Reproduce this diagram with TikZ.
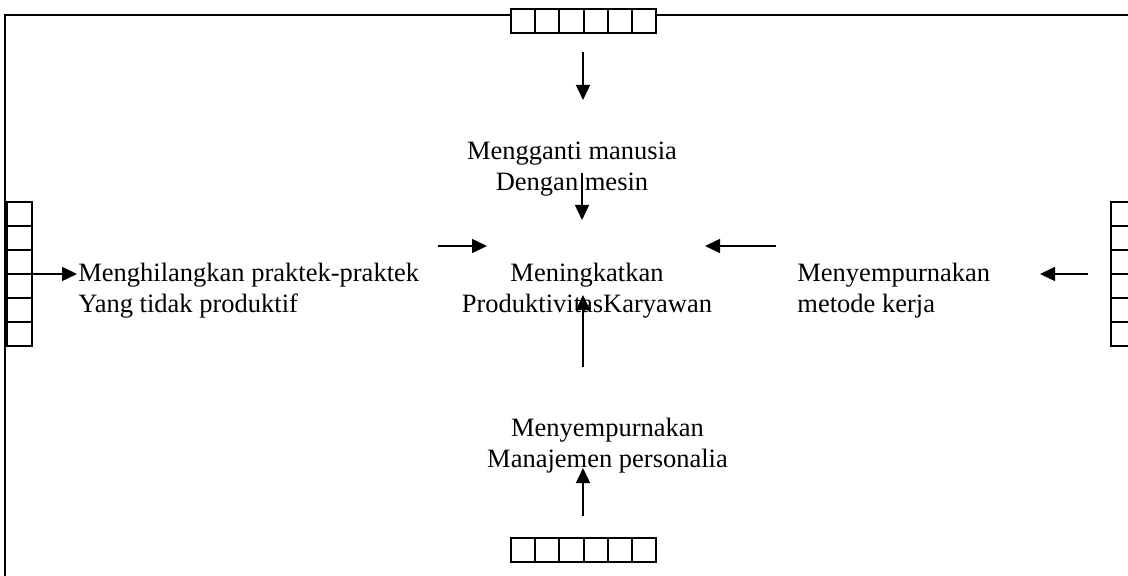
\documentclass[tikz,border=0pt]{standalone}
\usepackage{fontspec}
\setmainfont{Liberation Serif}
\usetikzlibrary{arrows.meta}
\begin{document}
\begin{tikzpicture}[x=0.5pt,y=-0.5pt,
  cell/.style={draw,fill=white,line width=1pt,minimum width=12.08pt,minimum height=12pt,inner sep=0pt,outer sep=0pt},
  frameline/.style={line width=0.75pt},
  arr/.style={line width=0.75pt,-{Triangle[length=7.5pt,width=7pt]}},
  lbl/.style={font=\fontsize{13.25pt}{15.5pt}\selectfont,inner sep=0pt,align=center,anchor=base},
  lblleft/.style={lbl,align=left,anchor=base west}]
\useasboundingbox (0,0) rectangle (1128,576);

% outer frame (top and left edges)
\coordinate (fTL) at (5,15);
\coordinate (fTR) at (1128,15);
\coordinate (fBL) at (5,576);
\draw[frameline] (fTR) -- (fTL) -- (fBL);

% strips of six cells
\foreach \i in {1,...,6} {
  \node[cell] (T\i) at ({511+12.08+24.17*(\i-1)},21.5) {};
  \node[cell] (B\i) at ({511+12.08+24.17*(\i-1)},550) {};
  \node[cell,minimum width=12.5pt] (L\i) at (19.5,{202+12+24*(\i-1)}) {};
  \node[cell,minimum width=12.5pt] (R\i) at (1123.5,{202+12+24*(\i-1)}) {};
}

% labels (anchored at the baseline of their last line)
\node[lbl] (top) at (572,191) {Mengganti manusia\\Dengan mesin};
\node[lbl] (mid) at (587,313) {Meningkatkan\\ProduktivitasKaryawan};
\node[lblleft] (left) at (78,313) {Menghilangkan praktek-praktek\\Yang tidak produktif};
\node[lblleft] (right) at (797,313) {Menyempurnakan\\metode kerja};
\node[lbl] (bot) at (607.5,467) {Menyempurnakan\\Manajemen personalia};

% arrow end points
\coordinate (a1s) at (583,52);   \coordinate (a1e) at (583,100);
\coordinate (a2s) at (582,173);  \coordinate (a2e) at (582,220);
\coordinate (a3s) at (438,246);  \coordinate (a3e) at (487,246);
\coordinate (a4s) at (776,246);  \coordinate (a4e) at (705,246);
\coordinate (a5s) at (583,367);  \coordinate (a5e) at (583,295);
\coordinate (a6s) at (583,516);  \coordinate (a6e) at (583,468);
\coordinate (a7e) at (77,274);
\coordinate (a8s) at (1088,274); \coordinate (a8e) at (1040,274);

\draw[arr] (a1s) -- (a1e);
\draw[arr] (a2s) -- (a2e);
\draw[arr] (a3s) -- (a3e);
\draw[arr] (a4s) -- (a4e);
\draw[arr] (a5s) -- (a5e);
\draw[arr] (a6s) -- (a6e);
\draw[arr] (L3.south west) -- (a7e);
\draw[arr] (a8s) -- (a8e);
\end{tikzpicture}
\end{document}
